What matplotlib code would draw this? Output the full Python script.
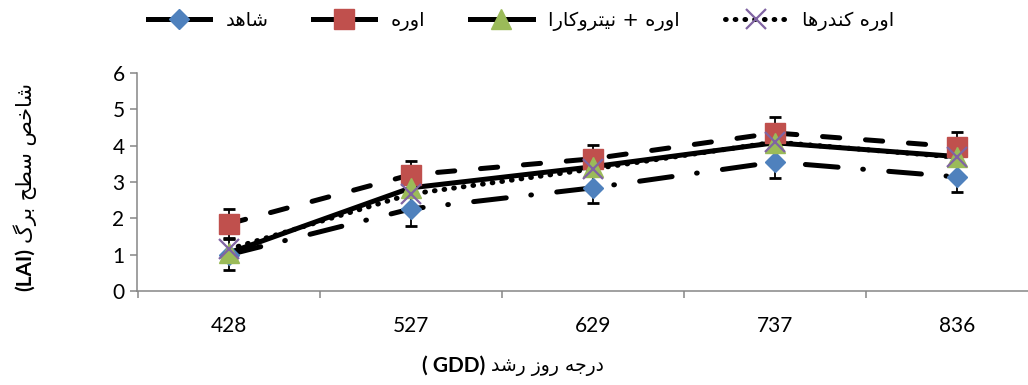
import matplotlib
matplotlib.use('Agg')
import matplotlib.pyplot as plt
from matplotlib.lines import Line2D

gdd = ['428', '527', '629', '737', '836']
shahed = [1.0, 2.26, 2.84, 3.55, 3.14]
shahed_err = [0.42, 0.46, 0.42, 0.44, 0.41]
urea = [1.85, 3.2, 3.64, 4.35, 3.97]
urea_err = [0.4, 0.37, 0.38, 0.44, 0.41]
urea_nitro = [1.05, 2.84, 3.42, 4.08, 3.7]
urea_kondor = [1.15, 2.67, 3.36, 4.1, 3.68]

names = ['شاهد', 'اوره', 'اوره + نیتروکارا', 'اوره کندرها']
ylabel_fa = 'شاخص سطح برگ'
xlabel_fa = 'درجه روز رشد'

# presentation forms: isolated, final, initial, medial
FORMS = {
    'ا': ('\uFE8D', '\uFE8E', None, None),
    'ب': ('\uFE8F', '\uFE90', '\uFE91', '\uFE92'),
    'ت': ('\uFE95', '\uFE96', '\uFE97', '\uFE98'),
    'ج': ('\uFE9D', '\uFE9E', '\uFE9F', '\uFEA0'),
    'ح': ('\uFEA1', '\uFEA2', '\uFEA3', '\uFEA4'),
    'خ': ('\uFEA5', '\uFEA6', '\uFEA7', '\uFEA8'),
    'د': ('\uFEA9', '\uFEAA', None, None),
    'ر': ('\uFEAD', '\uFEAE', None, None),
    'ز': ('\uFEAF', '\uFEB0', None, None),
    'س': ('\uFEB1', '\uFEB2', '\uFEB3', '\uFEB4'),
    'ش': ('\uFEB5', '\uFEB6', '\uFEB7', '\uFEB8'),
    'ص': ('\uFEB9', '\uFEBA', '\uFEBB', '\uFEBC'),
    'ط': ('\uFEC1', '\uFEC2', '\uFEC3', '\uFEC4'),
    'ل': ('\uFEDD', '\uFEDE', '\uFEDF', '\uFEE0'),
    'م': ('\uFEE1', '\uFEE2', '\uFEE3', '\uFEE4'),
    'ن': ('\uFEE5', '\uFEE6', '\uFEE7', '\uFEE8'),
    'ه': ('\uFEE9', '\uFEEA', '\uFEEB', '\uFEEC'),
    'و': ('\uFEED', '\uFEEE', None, None),
    'ک': ('\uFB8E', '\uFB8F', '\uFB90', '\uFB91'),
    'گ': ('\uFB92', '\uFB93', '\uFB94', '\uFB95'),
    'ی': ('\uFBFC', '\uFBFD', '\uFBFE', '\uFBFF'),
}


def shape(text):
    out = []
    for i, c in enumerate(text):
        if c not in FORMS:
            out.append(c)
            continue
        iso, fin, ini, med = FORMS[c]
        prev = text[i - 1] if i > 0 else ''
        nxt = text[i + 1] if i + 1 < len(text) else ''
        jp = prev in FORMS and FORMS[prev][2] is not None
        jn = ini is not None and nxt in FORMS
        if jp and jn:
            out.append(med)
        elif jp:
            out.append(fin)
        elif jn:
            out.append(ini)
        else:
            out.append(iso)
    return ''.join(reversed(out))


plt.rcParams['font.family'] = ['Lato', 'DejaVu Sans']
plt.rcParams['lines.scale_dashes'] = False

blue, red, green, purple = '#4F81BD', '#C0504D', '#9BBB59', '#8064A2'
grey = '#868686'
lw = 3.6

fig = plt.figure(figsize=(10.28, 3.85), dpi=100)
ax = fig.add_axes([137 / 1028, 1 - 291 / 385, 1 - 137 / 1028, 218 / 385])
x = list(range(len(gdd)))

ax.plot(x, shahed, color='black', lw=lw, dashes=(23.6, 17.8, 0.5, 18.3),
        dash_capstyle='round', zorder=2)
ax.plot(x, urea, color='black', lw=lw, dashes=(12.4, 18.6),
        dash_capstyle='round', zorder=2)
ax.plot(x, urea_nitro, color='black', lw=lw, solid_capstyle='round', zorder=2)
ax.plot(x, urea_kondor, color='black', lw=lw, dashes=(0.5, 6.5),
        dash_capstyle='round', zorder=2)

ax.errorbar(x, shahed, yerr=shahed_err, fmt='none', ecolor='black',
            elinewidth=1.3, capsize=4.5, capthick=2, zorder=2.5)
ax.errorbar(x, urea, yerr=urea_err, fmt='none', ecolor='black',
            elinewidth=1.3, capsize=4.5, capthick=2, zorder=2.5)

ax.plot(x, shahed, ls='none', marker='D', ms=10, mfc=blue, mec=blue, zorder=3)
ax.plot(x, urea, ls='none', marker='s', ms=14, mfc=red, mec=red, zorder=4)
ax.plot(x, urea_nitro, ls='none', marker='^', ms=14, mfc=green, mec=green, zorder=5)
ax.plot(x, urea_kondor, ls='none', marker='x', ms=14, mec=purple, mew=1.6, zorder=6)

ax.set_xlim(-0.505, 4.39)
ax.set_ylim(0, 6)
ax.set_yticks(range(7))
ax.set_xticks(x)
ax.set_xticklabels(gdd)
ax.set_xticks([-0.5, 0.5, 1.5, 2.5, 3.5], minor=True)
ax.tick_params(axis='x', which='major', length=0, pad=18, labelsize=15)
ax.tick_params(axis='x', which='minor', length=5, width=1.1, color=grey)
ax.tick_params(axis='y', length=5, width=1.1, color=grey, pad=4, labelsize=15)
for s in ['top', 'right']:
    ax.spines[s].set_visible(False)
for s in ['left', 'bottom']:
    ax.spines[s].set_color(grey)
    ax.spines[s].set_linewidth(1.1)

handles = [
    Line2D([], [], color='black', lw=lw, marker='D', ms=10, mfc=blue, mec=blue),
    Line2D([], [], color='black', lw=lw, marker='s', ms=14, mfc=red, mec=red),
    Line2D([], [], color='black', lw=lw, marker='^', ms=14, mfc=green, mec=green),
    Line2D([], [], color='black', lw=lw, dashes=(0.5, 6.5), dash_capstyle='round',
           marker='x', ms=14, mec=purple, mew=1.6),
]
fig.legend(handles, [shape(n) for n in names], loc='center',
           bbox_to_anchor=(0.507, 0.945), ncol=4, frameon=False,
           prop={'family': 'DejaVu Sans', 'size': 14}, handlelength=3.2,
           handletextpad=0.8, columnspacing=2.3)

fig.text(0.024, 0.368, shape(ylabel_fa), rotation=90, ha='center', va='bottom',
         family='DejaVu Sans', fontsize=15)
fig.text(0.024, 0.356, '(LAI)', rotation=90, ha='center', va='top',
         fontsize=15, fontweight='bold')
fig.text(0.472, 0.049, '( GDD)', ha='right', va='center', fontsize=15,
         fontweight='bold')
fig.text(0.478, 0.049, shape(xlabel_fa), ha='left', va='center',
         family='DejaVu Sans', fontsize=13.5)

fig.savefig('out.png', dpi=100)
